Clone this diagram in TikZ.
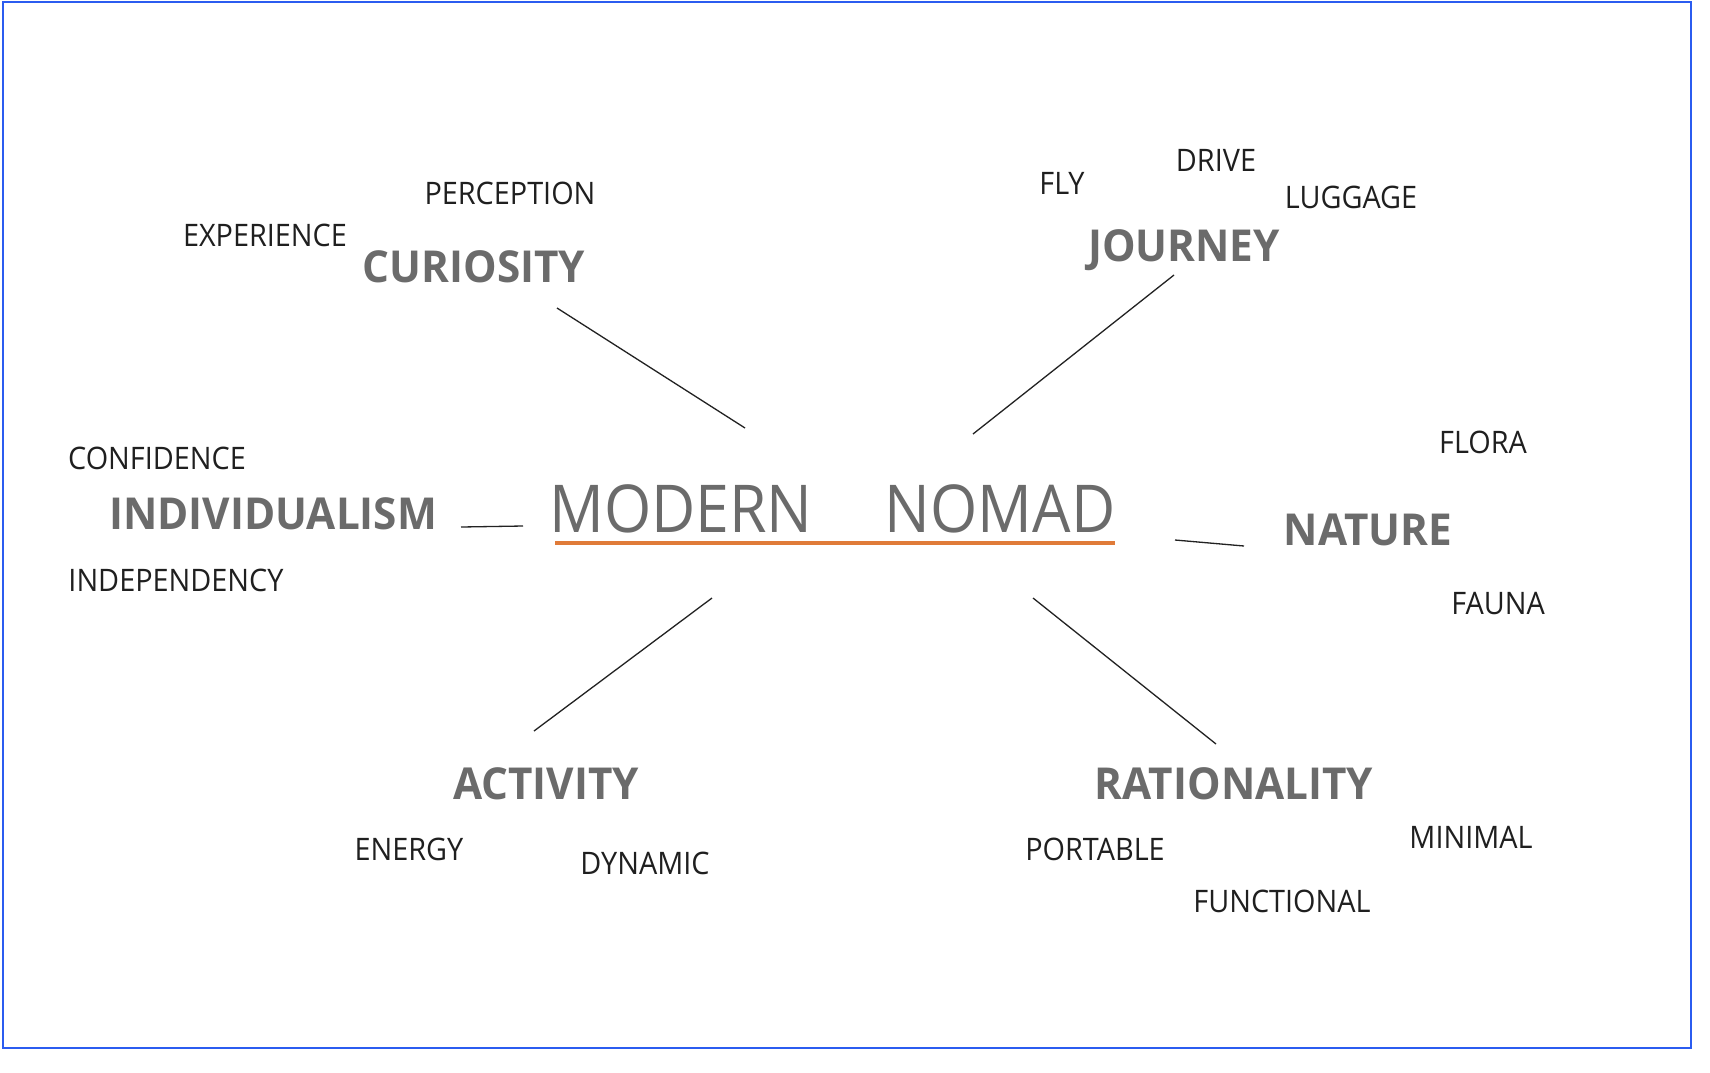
\documentclass[tikz,border=0pt]{standalone}
\usepackage{fontspec}
\setmainfont{Open Sans}
\newfontfamily\smallfnt[FakeStretch=0.93]{Open Sans}
\newfontfamily\headfnt[FakeStretch=0.96]{Open Sans Bold}
\newfontfamily\titlefnt[FakeStretch=0.92]{Open Sans}
\definecolor{frameblue}{HTML}{2B5CF0}
\definecolor{headgray}{HTML}{6B6B6B}
\definecolor{lineblack}{HTML}{222222}
\definecolor{accent}{HTML}{E07B39}
\begin{document}
\begin{tikzpicture}[x=1pt,y=-1pt,
  every node/.style={inner sep=0pt, anchor=base},
  word/.style={font=\smallfnt\fontsize{31}{36}\selectfont, text=black!88},
  head/.style={font=\headfnt\fontsize{44}{50}\selectfont, text=headgray},
  title/.style={font=\titlefnt\fontsize{66}{76}\selectfont, text=headgray},
  link/.style={draw=lineblack, line width=1.3pt},
]
\useasboundingbox (0,0) rectangle (1710,1072);
\fill[white] (0,0) rectangle (1710,1072);
\draw[frameblue, line width=2pt] (3,1.5) rectangle (1690.5,1048);

% title
\node[title] (modern) at (681,532) {MODERN};
\node[title] (nomad) at (1000,532) {NOMAD};
\coordinate (ulA) at (555,543);
\coordinate (ulB) at (1115,543);
\draw[accent, line width=3.5pt] (ulA) -- (ulB);

% curiosity
\node[word] (perception) at (510,204) {PERCEPTION};
\node[word] (experience) at (265,246) {EXPERIENCE};
\node[head] (curiosity) at (474,282) {CURIOSITY};

% journey
\node[word] (fly) at (1062,194) {FLY};
\node[word] (drive) at (1216,171) {DRIVE};
\node[word] (luggage) at (1351,208) {LUGGAGE};
\node[head] (journey) at (1184,261) {JOURNEY};

% individualism
\node[word] (confidence) at (157,469) {CONFIDENCE};
\node[head] (individualism) at (273,529) {INDIVIDUALISM};
\node[word] (independency) at (176,591) {INDEPENDENCY};

% nature
\node[word] (flora) at (1483,453) {FLORA};
\node[head] (nature) at (1368,545) {NATURE};
\node[word] (fauna) at (1498,614) {FAUNA};

% activity
\node[head] (activity) at (546,799) {ACTIVITY};
\node[word] (energy) at (409,860) {ENERGY};
\node[word] (dynamic) at (645,874) {DYNAMIC};

% rationality
\node[head] (rationality) at (1234,799) {RATIONALITY};
\node[word] (portable) at (1095,860) {PORTABLE};
\node[word] (minimal) at (1471,848) {MINIMAL};
\node[word] (functional) at (1282,912) {FUNCTIONAL};

% connector ends
\coordinate (cA) at (557,308);   \coordinate (cB) at (745,428);
\coordinate (jA) at (1174,275);  \coordinate (jB) at (973,434);
\coordinate (iA) at (461,527);   \coordinate (iB) at (523,526);
\coordinate (nA) at (1175,540);  \coordinate (nB) at (1244,546);
\coordinate (aA) at (712,598);   \coordinate (aB) at (534,731);
\coordinate (rA) at (1033,598);  \coordinate (rB) at (1216,744);

\draw[link] (cA) -- (cB);
\draw[link] (jA) -- (jB);
\draw[link] (iA) -- (iB);
\draw[link] (nA) -- (nB);
\draw[link] (aA) -- (aB);
\draw[link] (rA) -- (rB);
\end{tikzpicture}
\end{document}
